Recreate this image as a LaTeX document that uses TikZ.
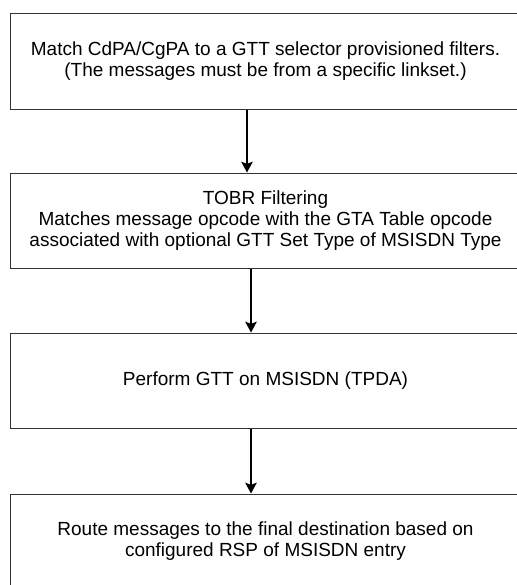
\documentclass[tikz,border=0pt]{standalone}
\usepackage{fontspec}
\setmainfont{Liberation Sans}
\usetikzlibrary{arrows.meta}
\tikzset{
  stepbox/.style={draw=black!80, line width=0.75pt, inner sep=0pt,
    minimum width=383.25pt, minimum height=71.25pt, align=center,
    font=\fontsize{14.25}{15.75}\selectfont},
  flow/.style={line width=1.7pt, -{Stealth[length=8pt,width=8.5pt,inset=1.5pt]}}
}
\begin{document}
\begin{tikzpicture}[x=0.75pt,y=-0.75pt]
  \useasboundingbox (0,0) rectangle (517,585);
  \clip (0,0) rectangle (517,585);
  \node[stepbox] (match) at (265.5,61.5)
   {Match CdPA/CgPA to a GTT selector provisioned filters.\\(The messages must be from a specific linkset.)};
  \node[stepbox] (tobr) at (265.5,220.5)
   {TOBR Filtering\\Matches message opcode with the GTA Table opcode\\associated with optional GTT Set Type of MSISDN Type};
  \node[stepbox] (gtt) at (265.5,380.5) {Perform GTT on MSISDN (TPDA)};
  \node[stepbox] (route) at (265.5,541.5)
   {Route messages to the final destination based on\\configured RSP of MSISDN entry};
  \draw[flow] ([xshift=-13.875pt]match.south) -- ([xshift=-13.875pt]tobr.north);
  \draw[flow] ([xshift=-10.875pt]tobr.south) -- ([xshift=-10.875pt]gtt.north);
  \draw[flow] ([xshift=-10.875pt]gtt.south) -- ([xshift=-10.875pt]route.north);
\end{tikzpicture}
\end{document}
